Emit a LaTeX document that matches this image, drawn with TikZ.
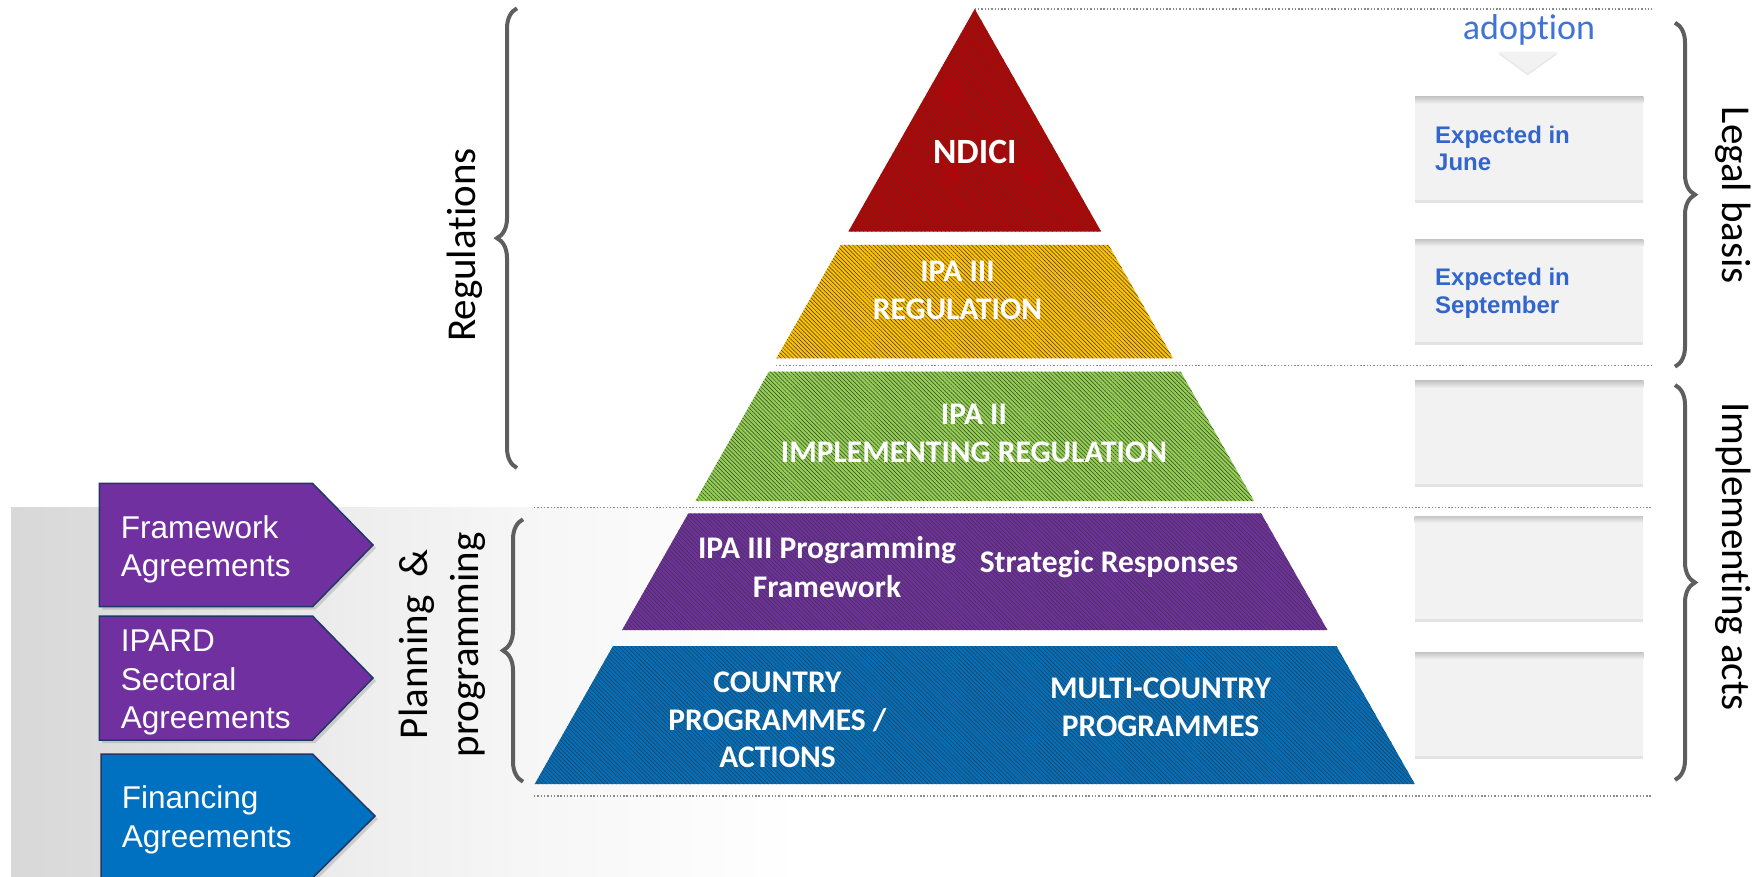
\documentclass[tikz,border=0pt]{standalone}
\usepackage{fontspec}
\setmainfont{Carlito}[Ligatures=NoCommon]
\newfontfamily\arialf{Liberation Sans}
\usetikzlibrary{patterns.meta,decorations.pathreplacing,shadows}
\definecolor{cRed}{HTML}{C00000}
\definecolor{cYel}{HTML}{FFC000}
\definecolor{cGrn}{HTML}{92D050}
\definecolor{cPur}{HTML}{7030A0}
\definecolor{cBlu}{HTML}{0070C0}
\definecolor{cNavy}{HTML}{203864}
\definecolor{cBrace}{HTML}{5E5E5E}
\definecolor{cDot}{HTML}{8A8A8A}
\definecolor{cBoxTxt}{HTML}{3366CC}
\definecolor{cAdopt}{HTML}{3F73D5}
\definecolor{cBox}{HTML}{F2F2F2}
\definecolor{cStripe}{HTML}{383838}
\definecolor{pA}{HTML}{D8D8D8}
\definecolor{pB}{HTML}{DCDCDC}
\definecolor{pC}{HTML}{EFEFEF}
\definecolor{pD}{HTML}{F6F6F6}
\pgfdeclarehorizontalshading{panelfade}{100bp}{color(0bp)=(pA); color(25bp)=(pA); color(30.6bp)=(pB); color(48.4bp)=(pC); color(57.3bp)=(pD); color(75bp)=(white); color(100bp)=(white)}
\begin{document}
\begin{tikzpicture}[x=1pt,y=-1pt,
  layer/.style={fill=#1, postaction={pattern={Lines[angle=-45,distance=2.9pt,line width=0.5pt]}, pattern color=cStripe}},
  pyrtext/.style={text=white, font=\fontsize{31.5}{38.4}\selectfont\bfseries, inner sep=0pt, anchor=base},
  dotline/.style={cDot, line width=1.3pt, dash pattern=on 1.4pt off 1.9pt},
  bracestyle/.style={cBrace, line width=4pt, decorate, decoration={brace, amplitude=20pt}},
  sidelabel/.style={font=\fontsize{41}{48}\selectfont, inner sep=0pt, anchor=center},
  agree/.style={draw=cNavy, line width=1.5pt, drop shadow={opacity=0.3, shadow xshift=3pt, shadow yshift=-3pt}},
  agreetext/.style={text=white, font=\arialf\fontsize{31.5}{38.4}\selectfont, inner sep=0pt, anchor=base west},
  infobox/.style={fill=cBox, inner sep=0pt, anchor=north west, minimum width=228pt, minimum height=103pt, drop shadow={opacity=0.22, shadow xshift=0pt, shadow yshift=-3pt}},
  boxtext/.style={text=cBoxTxt, font=\arialf\bfseries\fontsize{24}{27.5}\selectfont, inner sep=0pt, anchor=base west},
]
\useasboundingbox (0,0) rectangle (1757,877);

% background panel
\shade[shading=panelfade] (11,507.7) rectangle (800,877);

% dotted guide lines
\coordinate (d0a) at (974.75,9);    \coordinate (d0b) at (1652,9);
\coordinate (d1a) at (776,365.7);   \coordinate (d1b) at (1652,365.7);
\coordinate (d2a) at (534,507.5);   \coordinate (d2b) at (1652,507.5);
\coordinate (d3a) at (534,796);     \coordinate (d3b) at (1652,796);
\draw[dotline] (d0a) -- (d0b);
\draw[dotline] (d1a) -- (d1b);
\draw[dotline] (d2a) -- (d2b);
\draw[dotline] (d3a) -- (d3b);

% pyramid layers
\path[layer=cRed] (974.75,9) -- (1101.2,231.7) -- (848.3,231.7) -- cycle;
\path[layer=cYel] (840.75,245) -- (1108.75,245) -- (1173.1,358.3) -- (776.4,358.3) -- cycle;
\path[layer=cGrn] (768.8,371.7) -- (1180.7,371.7) -- (1254.1,501) -- (695.4,501) -- cycle;
\path[layer=cPur] (688.4,513.3) -- (1261.1,513.3) -- (1327.4,630) -- (622.1,630) -- cycle;
\path[layer=cBlu] (613.0,646) -- (1336.4,646) -- (1414.8,784) -- (534.7,784) -- cycle;

% pyramid texts
\node[pyrtext, font=\fontsize{35.5}{40}\selectfont\bfseries] (ndici) at (974.75,164) {NDICI};
\node[pyrtext] (ipa3a) at (957.5,281.7) {IPA III};
\node[pyrtext] (ipa3b) at (957.5,320) {REGULATION};
\node[pyrtext] (ipa2a) at (974,424) {IPA II};
\node[pyrtext] (ipa2b) at (974,462.7) {IMPLEMENTING REGULATION};
\node[pyrtext] (pfa) at (827,558.3) {IPA III Programming};
\node[pyrtext] (pfb) at (827,597.3) {Framework};
\node[pyrtext] (sresp) at (1109,572.7) {Strategic Responses};
\node[pyrtext] (cpa) at (777.5,692.7) {COUNTRY};
\node[pyrtext] (cpb) at (777.5,730.7) {PROGRAMMES /};
\node[pyrtext] (cpc) at (777.5,767.7) {ACTIONS};
\node[pyrtext] (mca) at (1160.5,698.3) {MULTI-COUNTRY};
\node[pyrtext] (mcb) at (1160.5,736.7) {PROGRAMMES};

% right info boxes
\node[infobox] (b1) at (1415,96.7) {};
\node[infobox] (b2) at (1415,239.3) {};
\node[infobox] (b3) at (1415,381) {};
\node[infobox] (b4) at (1414.5,516) {};
\node[infobox] (b5) at (1415,652.3) {};
\foreach \b in {b1,b2,b3,b4,b5}{
  \shade[top color=gray!45, bottom color=cBox] (\b.north west) rectangle ([yshift=-7pt]\b.north east);
}
\node[boxtext] (b1t1) at (1435,143.3) {Expected in};
\node[boxtext] (b1t2) at (1435,170.7) {June};
\node[boxtext] (b2t1) at (1435,286) {Expected in};
\node[boxtext] (b2t2) at (1435,314) {September};

% adoption
\node[text=cAdopt, font=\fontsize{36}{40}\selectfont, inner sep=0pt, anchor=base] (adopt) at (1529,39.3) {adoption};
\path[fill=cBox, drop shadow={opacity=0.18, shadow xshift=0pt, shadow yshift=-2pt}] (1498,51.7) -- (1558,51.7) -- (1527.7,73.3) -- cycle;

% braces
\coordinate (regT) at (517,8.3);   \coordinate (regB) at (517,468);
\coordinate (plaT) at (523,519.3); \coordinate (plaB) at (523,781.7);
\coordinate (legT) at (1675,22.7); \coordinate (legB) at (1675,366.7);
\coordinate (impT) at (1675,385);  \coordinate (impB) at (1675,780);
\draw[bracestyle] (regB) -- (regT);
\draw[bracestyle] (plaB) -- (plaT);
\draw[bracestyle] (legT) -- (legB);
\draw[bracestyle] (impT) -- (impB);

% side labels
\node[sidelabel, rotate=90] (regl) at (465,245) {Regulations};
\node[sidelabel, rotate=90] (pla1) at (416.9,644) {Planning\ \ \&};
\node[sidelabel, rotate=90] (pla2) at (467.7,645) {programming};
\node[sidelabel, rotate=-90] (legl) at (1733,195.5) {Legal basis};
\node[sidelabel, rotate=-90] (impl) at (1733,556.5) {Implementing acts};

% agreement arrows
\path[agree, fill=cPur] (99.3,483.3) -- (312.5,483.3) -- (373,545) -- (312.5,606.7) -- (99.3,606.7) -- cycle;
\path[agree, fill=cPur] (99.3,616) -- (312.5,616) -- (373,678) -- (312.5,740) -- (99.3,740) -- cycle;
\path[agree, fill=cBlu] (101,754) -- (312.5,754) -- (375,816) -- (312.5,878) -- (101,878) -- cycle;
\node[agreetext] (fw1) at (120.7,538.3) {Framework};
\node[agreetext] (fw2) at (120.7,576.7) {Agreements};
\node[agreetext] (ip1) at (120.7,651.7) {IPARD};
\node[agreetext] (ip2) at (120.7,690) {Sectoral};
\node[agreetext] (ip3) at (120.7,728.3) {Agreements};
\node[agreetext] (fi1) at (121.7,808.5) {Financing};
\node[agreetext] (fi2) at (121.7,847) {Agreements};
\end{tikzpicture}
\end{document}
